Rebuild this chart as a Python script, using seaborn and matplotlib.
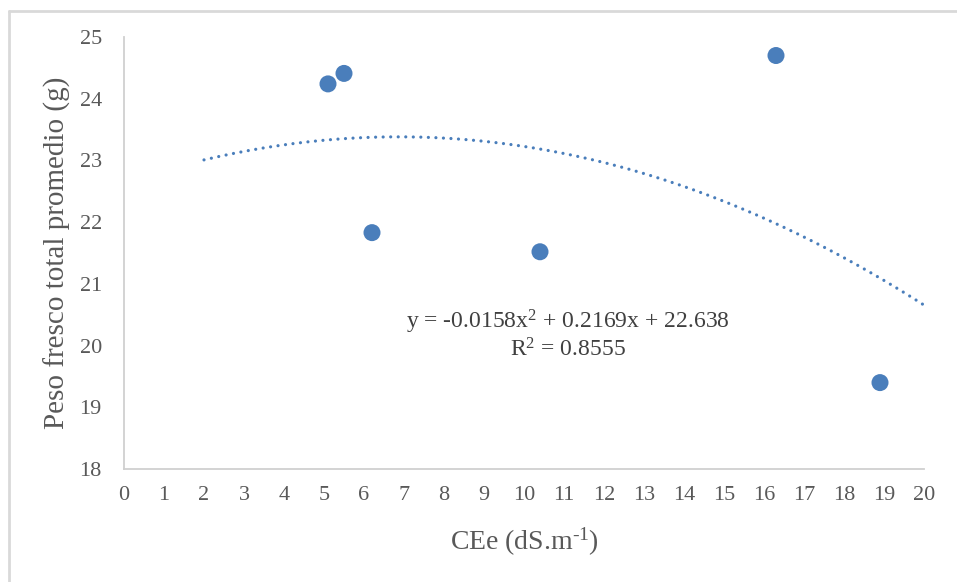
import numpy as np
import pandas as pd
import matplotlib
matplotlib.use("Agg")
import matplotlib.pyplot as plt
from matplotlib.lines import Line2D
import seaborn as sns

# Measured data: electrical conductivity vs. mean total fresh weight
cee = [5.1, 5.5, 6.2, 10.4, 16.3, 18.9]
peso = [24.24, 24.41, 21.83, 21.52, 24.70, 19.40]

# Polynomial trendline (order 2) coefficients and fit statistic
coef_a, coef_b, coef_c = -0.0158, 0.2169, 22.638
r2 = 0.8555
trend_start, trend_end = 2, 20

x_ticks = list(range(0, 21))
y_ticks = list(range(18, 26))

sns.set_theme(style="white")
plt.rcParams["font.family"] = ["Liberation Serif", "DejaVu Serif"]
plt.rcParams["mathtext.fontset"] = "custom"
plt.rcParams["mathtext.rm"] = "Liberation Serif"
plt.rcParams["mathtext.it"] = "Liberation Serif"
plt.rcParams["mathtext.default"] = "regular"

blue = "#4a7ebb"
tick_color = "#595959"
label_color = "#595959"

fig = plt.figure(figsize=(9.57, 5.82), dpi=100)
W, H = 957, 582
ax = fig.add_axes([124 / W, 1 - 469 / H, 800 / W, 432 / H])

# Trendline evaluated from the stated equation
xt = np.linspace(trend_start, trend_end, 200)
trend = pd.DataFrame({"x": xt, "y": coef_a * xt**2 + coef_b * xt + coef_c})
sns.lineplot(data=trend, x="x", y="y", ax=ax, color=blue, lw=2.3,
             linestyle=(0, (0.01, 2.35)), dash_capstyle="round", zorder=2)

pts = pd.DataFrame({"CEe": cee, "Peso": peso})
sns.scatterplot(data=pts, x="CEe", y="Peso", ax=ax, color=blue, s=150,
                edgecolor="none", zorder=3)

ax.set_xlim(0, 20)
ax.set_ylim(18, 25)
ax.set_xticks(x_ticks)
ax.set_yticks(y_ticks)
ax.tick_params(axis="both", length=0, labelsize=16, colors=tick_color)
ax.tick_params(axis="x", pad=12)
ax.tick_params(axis="y", pad=16)

for side in ["top", "right"]:
    ax.spines[side].set_visible(False)
for side in ["left", "bottom"]:
    ax.spines[side].set_color("#d0d0d0")
    ax.spines[side].set_linewidth(1.3)

ax.set_xlabel(r"CEe (dS.m$^{\text{-}1}$)", fontsize=20, color=label_color,
              labelpad=15)
ax.set_ylabel("Peso fresco total promedio (g)", fontsize=21, color=label_color,
              labelpad=6)

eq = (f"y = {coef_a}x$^{{2}}$ + {coef_b}x + {coef_c}\n"
      f"R$^{{2}}$ = {r2}")
ax.text(11.1, 20.18, eq, fontsize=17, color="#404040", ha="center",
        va="center", linespacing=1.1)

# Frame lines of the chart area
fig.add_artist(Line2D([9 / W, 1], [1 - 11 / H, 1 - 11 / H],
                      transform=fig.transFigure, color="#d9d9d9", lw=2))
fig.add_artist(Line2D([9 / W, 9 / W], [0, 1 - 11 / H],
                      transform=fig.transFigure, color="#d9d9d9", lw=2))

fig.savefig("out.png", dpi=100)
